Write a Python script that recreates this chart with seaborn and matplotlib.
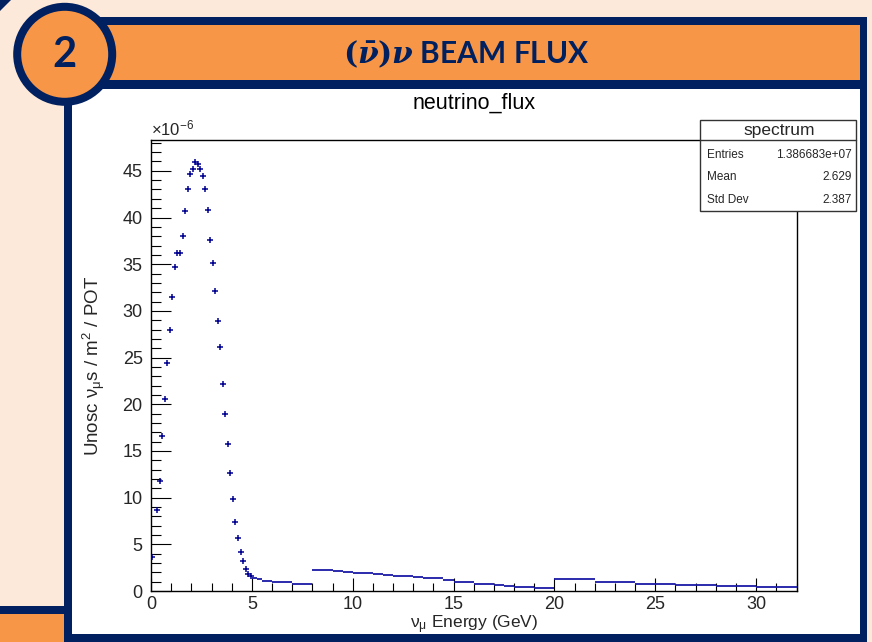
import numpy as np
import pandas as pd
import matplotlib
matplotlib.use("Agg")
import matplotlib.pyplot as plt
import seaborn as sns
from matplotlib.patches import Rectangle, Circle, Polygon
from matplotlib.ticker import MultipleLocator

# ---------------- data (flux in units of 1e-6 nu_mu / m^2 / POT) ----------------
fine_energy = [0.0625, 0.3125, 0.4375, 0.5625, 0.6875, 0.8125, 0.9375, 1.0625,
               1.1875, 1.3125, 1.4375, 1.5625, 1.6875, 1.8125, 1.9375, 2.0625,
               2.1875, 2.3125, 2.4375, 2.5625, 2.6875, 2.8125, 2.9375, 3.0625,
               3.1875, 3.3125, 3.4375, 3.5625, 3.6875, 3.8125, 3.9375, 4.0625,
               4.1875, 4.3125, 4.4375, 4.5625, 4.6875, 4.8125, 4.9375]
fine_flux = [3.65, 8.7, 11.8, 16.6, 20.6, 24.4, 28.0, 31.45,
             34.7, 36.2, 36.2, 38.05, 40.7, 43.05, 44.7, 45.2,
             45.9, 45.7, 45.2, 44.4, 43.05, 40.75, 37.55, 35.15,
             32.15, 28.95, 26.1, 22.2, 19.0, 15.7, 12.6, 9.86,
             7.4, 5.7, 4.2, 3.2, 2.4, 1.86, 1.57]

coarse_lo = [5.0, 5.25, 5.5, 6.0, 7.0,
             8.0, 8.5, 9.0, 9.5, 10.0, 10.5, 11.0, 11.5, 12.0, 12.5, 13.0, 13.5,
             14.0, 14.5, 15.0, 15.5, 16.0, 16.5, 17.0, 17.5, 18.0, 18.5, 19.0, 19.5,
             20.0, 22.0, 24.0, 26.0, 28.0, 30.0]
coarse_hi = [5.25, 5.5, 6.0, 7.0, 8.0,
             8.5, 9.0, 9.5, 10.0, 10.5, 11.0, 11.5, 12.0, 12.5, 13.0, 13.5, 14.0,
             14.5, 15.0, 15.5, 16.0, 16.5, 17.0, 17.5, 18.0, 18.5, 19.0, 19.5, 20.0,
             22.0, 24.0, 26.0, 28.0, 30.0, 32.0]
coarse_flux = [1.42, 1.25, 1.04, 0.92, 0.76,
               2.25, 2.2, 2.1, 2.0, 1.93, 1.88, 1.8, 1.75, 1.65, 1.57, 1.5, 1.42,
               1.35, 1.18, 1.0, 0.93, 0.8, 0.75, 0.6, 0.55, 0.48, 0.4, 0.35, 0.33,
               1.30, 0.97, 0.76, 0.61, 0.50, 0.40]

stats_labels = ["Entries", "Mean", "Std Dev"]
stats_values = ["1.386683e+07", "2.629", "2.387"]

x_ticks = [0, 5, 10, 15, 20, 25, 30]
y_ticks = [0, 5, 10, 15, 20, 25, 30, 35, 40, 45]

# ---------------- style ----------------
sns.set_theme(style="white")
plt.rcParams["font.family"] = ["Liberation Sans", "DejaVu Sans"]
plt.rcParams["mathtext.fontset"] = "custom"
plt.rcParams["mathtext.it"] = "DejaVu Serif:italic:bold"
plt.rcParams["mathtext.rm"] = "DejaVu Serif:bold"
plt.rcParams["mathtext.bf"] = "DejaVu Serif:bold"

NAVY = "#002060"
ORANGE = "#F79646"
PEACH = "#FDE9D9"
DATA = "#00008f"

W, H = 872, 642
fig = plt.figure(figsize=(W / 100, H / 100), dpi=100)
fig.patch.set_facecolor(PEACH)

# background decoration axes in pixel coordinates
bg = fig.add_axes([0, 0, 1, 1], zorder=0, label="bg")
bg.set_xlim(0, W)
bg.set_ylim(H, 0)
bg.axis("off")

bg.add_patch(Rectangle((0, 613), 64, 29, fc=ORANGE, ec="none"))
bg.add_patch(Rectangle((0, 605.5), 66, 8, fc=NAVY, ec="none"))
bg.add_patch(Rectangle((63.5, 84), 803.5, 560, fc=NAVY, ec="none"))
bg.add_patch(Rectangle((71.5, 88.7), 788, 545.3, fc="white", ec="none"))
bg.add_patch(Rectangle((100, 16.7), 767, 72, fc=NAVY, ec="none"))
bg.add_patch(Rectangle((100, 25), 759.5, 55.3, fc=ORANGE, ec="none"))
bg.add_patch(Polygon([(0, 0), (11, 0), (0, 11)], closed=True, fc=NAVY, ec="none"))
bg.add_patch(Circle((64.7, 54.3), 51.5, fc=NAVY, ec="none"))
bg.add_patch(Circle((64.7, 54.3), 43.5, fc=ORANGE, ec="none"))
bg.text(64.5, 55, "2", fontsize=30, fontweight="bold", color=NAVY,
        family=["Lato", "DejaVu Sans"], ha="center", va="center")
bg.text(466, 54, r"$(\bar{\nu})\nu$ BEAM FLUX", fontsize=21.5, fontweight="bold",
        color=NAVY, family=["Lato", "DejaVu Sans"], ha="center", va="center")
bg.text(474, 103, "neutrino_flux", fontsize=15.5, color="black",
        ha="center", va="center")

# ---------------- main plot ----------------
ax_left, ax_right, ax_top, ax_bottom = 151, 796.5, 140, 591
ax = fig.add_axes([ax_left / W, 1 - ax_bottom / H, (ax_right - ax_left) / W,
                   (ax_bottom - ax_top) / H], zorder=2)
ax.set_facecolor("white")

df_fine = pd.DataFrame({"energy": fine_energy, "flux": fine_flux})
sns.scatterplot(data=df_fine, x="energy", y="flux", marker="+", s=13,
                color=DATA, linewidth=1.1, ax=ax, legend=False, zorder=3)
ax.hlines(coarse_flux, coarse_lo, coarse_hi, colors="#1a1aa6", linewidth=1.3, zorder=3)

ax.set_xlim(0, 32)
ax.set_ylim(0, 48.3)
ax.set_xticks(x_ticks)
ax.set_yticks(y_ticks)
ax.set_xticklabels([str(t) for t in x_ticks])
ax.set_yticklabels([str(t) for t in y_ticks])
ax.xaxis.set_minor_locator(MultipleLocator(1))
ax.yaxis.set_minor_locator(MultipleLocator(1))
ax.tick_params(axis="y", which="major", direction="in", length=14.4, width=0.8,
               left=True, right=False, labelsize=13, pad=6, color="black")
ax.tick_params(axis="y", which="minor", direction="in", length=7.2, width=0.8,
               left=True, right=False, color="black")
ax.tick_params(axis="x", which="major", direction="in", length=9.3, width=0.8,
               bottom=True, top=False, labelsize=13, pad=3.5, color="black")
ax.tick_params(axis="x", which="minor", direction="in", length=5.5, width=0.8,
               bottom=True, top=False, color="black")
for sp in ax.spines.values():
    sp.set_color("black")
    sp.set_linewidth(1.0)
ax.grid(False)

ax.set_xlabel(r"$\mathregular{\nu_{\mu}}$ Energy (GeV)", fontsize=12.5)
ax.xaxis.set_label_coords(0.5, -0.05)
ax.set_ylabel(r"Unosc $\mathregular{\nu_{\mu}}$s / m$\mathregular{^{2}}$ / POT", fontsize=13.5)
ax.yaxis.set_label_coords(-0.068, 0.5)
ax.text(0.0, 1.004, r"×10$\mathregular{^{-6}}$", transform=ax.transAxes,
        fontsize=12, ha="left", va="bottom")

# ---------------- stats box ----------------
top = fig.add_axes([0, 0, 1, 1], zorder=3, label="top")
top.set_xlim(0, W)
top.set_ylim(H, 0)
top.axis("off")
top.patch.set_alpha(0)
top.add_patch(Rectangle((700, 120), 156, 91, fc="white", ec="#333333", lw=1.0))
top.plot([700, 856], [139.5, 139.5], color="#333333", lw=1.0)
top.text(779, 130.5, "spectrum", fontsize=12.5, ha="center", va="center")
for i, (lab, val) in enumerate(zip(stats_labels, stats_values)):
    yy = 154.5 + i * 22.8
    top.text(707, yy, lab, fontsize=8.5, ha="left", va="center")
    top.text(852, yy, val, fontsize=8.5, ha="right", va="center")

fig.savefig("out.png", dpi=100, facecolor=fig.get_facecolor())
